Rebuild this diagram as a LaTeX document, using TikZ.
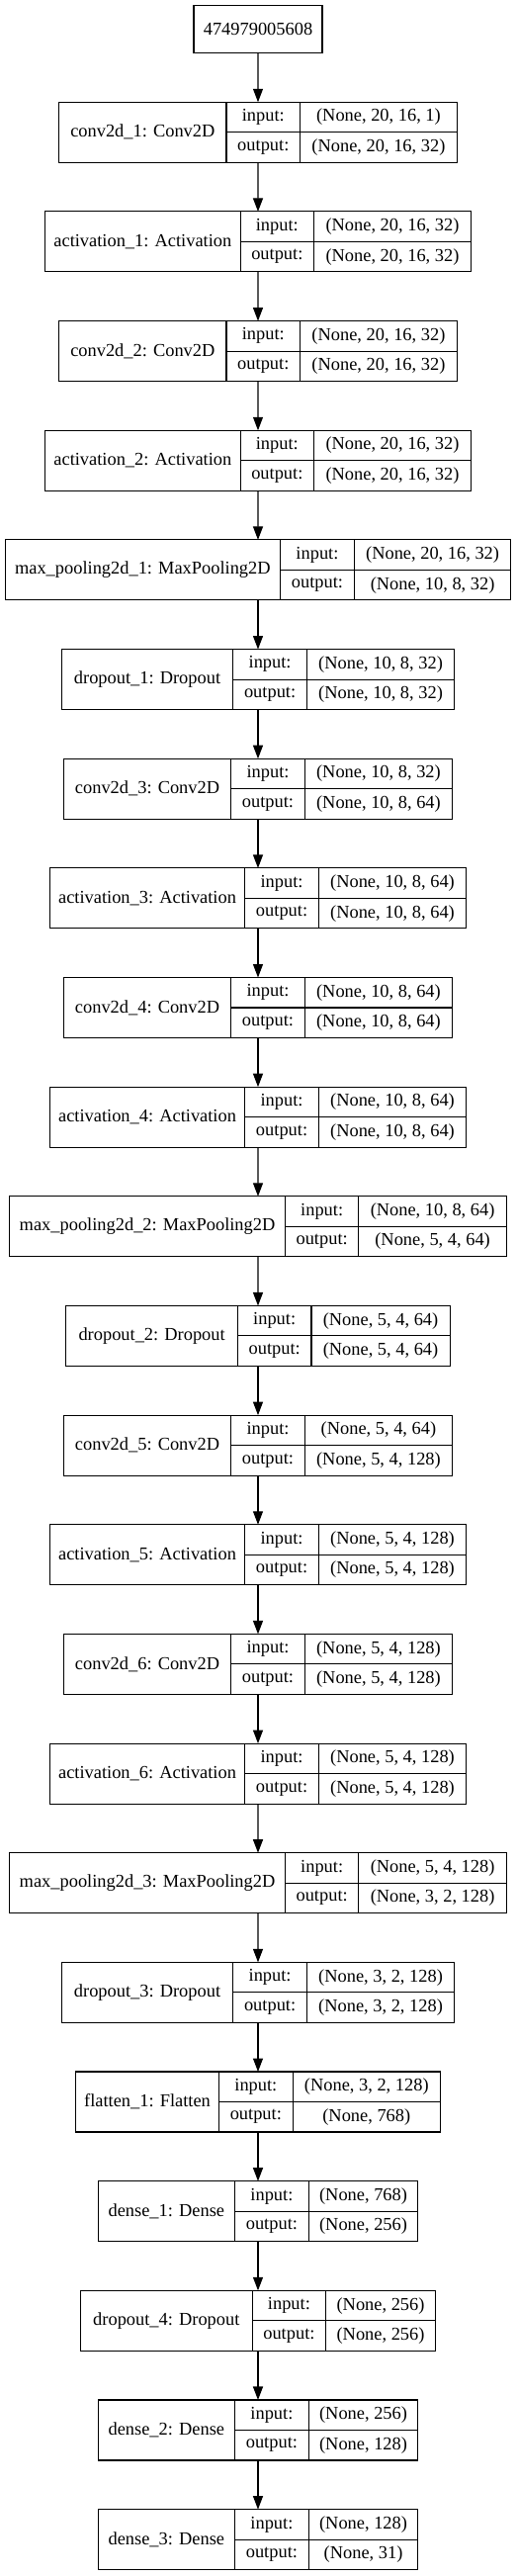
\documentclass[tikz,border=0pt]{standalone}
\usepackage{fontspec}
\setmainfont{Liberation Serif}
\usetikzlibrary{arrows.meta}
\def\u{0.75pt}
\tikzset{
  cell/.style={draw=black, line width=0.8pt, inner sep=0pt, outer sep=0pt, align=center,
    font=\fontsize{13.8pt}{16pt}\selectfont},
  blk/.style={inner sep=0pt, outer sep=0pt, minimum height=61*\u},
  arr/.style={line width=0.8pt, -{Triangle[length=13.5*\u, width=10*\u]}}
}
\newcommand\layer[6]{%
  \pgfmathsetmacro\lyW{#3+74.6+#4}%
  \pgfmathsetmacro\lyL{261-\lyW/2}%
  \pgfmathsetmacro\lyT{103.3+110.65*(#1-1)}%
  \pgfmathsetmacro\lyA{\lyL+#3}%
  \pgfmathsetmacro\lyB{\lyL+#3+74.6}%
  \pgfmathsetmacro\lyM{\lyT+30.5}%
  \node[blk, minimum width=\lyW*\u, anchor=north west] (b#1) at (\lyL,\lyT) {};
  \node[cell, minimum width=#3*\u, minimum height=61*\u, anchor=north west] (b#1l) at (\lyL,\lyT) {#2};
  \node[cell, minimum width=74.6*\u, minimum height=30.5*\u, anchor=north west] (b#1i) at (\lyA,\lyT) {input:};
  \node[cell, minimum width=74.6*\u, minimum height=30.5*\u, anchor=north west] (b#1o) at (\lyA,\lyM) {output:};
  \node[cell, minimum width=#4*\u, minimum height=30.5*\u, anchor=north west] (b#1iv) at (\lyB,\lyT) {#5};
  \node[cell, minimum width=#4*\u, minimum height=30.5*\u, anchor=north west] (b#1ov) at (\lyB,\lyM) {#6};
}
\begin{document}
\begin{tikzpicture}[x=\u, y=-\u]
\useasboundingbox (0,0) rectangle (523,2605);
\node[cell, minimum width=130*\u, minimum height=48*\u, anchor=north west] (top) at (196,5.7) {474979005608};
\layer{1}{conv2d\_1: Conv2D}{169.3}{158.7}{(None, 20, 16, 1)}{(None, 20, 16, 32)}
\layer{2}{activation\_1: Activation}{197.4}{158.7}{(None, 20, 16, 32)}{(None, 20, 16, 32)}
\layer{3}{conv2d\_2: Conv2D}{169.3}{158.7}{(None, 20, 16, 32)}{(None, 20, 16, 32)}
\layer{4}{activation\_2: Activation}{197.4}{158.7}{(None, 20, 16, 32)}{(None, 20, 16, 32)}
\layer{5}{max\_pooling2d\_1: MaxPooling2D}{278.6}{158.7}{(None, 20, 16, 32)}{(None, 10, 8, 32)}
\layer{6}{dropout\_1: Dropout}{173.5}{149.3}{(None, 10, 8, 32)}{(None, 10, 8, 32)}
\layer{7}{conv2d\_3: Conv2D}{169.3}{149.3}{(None, 10, 8, 32)}{(None, 10, 8, 64)}
\layer{8}{activation\_3: Activation}{197.4}{149.3}{(None, 10, 8, 64)}{(None, 10, 8, 64)}
\layer{9}{conv2d\_4: Conv2D}{169.3}{149.3}{(None, 10, 8, 64)}{(None, 10, 8, 64)}
\layer{10}{activation\_4: Activation}{197.4}{149.3}{(None, 10, 8, 64)}{(None, 10, 8, 64)}
\layer{11}{max\_pooling2d\_2: MaxPooling2D}{278.6}{149.3}{(None, 10, 8, 64)}{(None, 5, 4, 64)}
\layer{12}{dropout\_2: Dropout}{173.5}{140.1}{(None, 5, 4, 64)}{(None, 5, 4, 64)}
\layer{13}{conv2d\_5: Conv2D}{169.3}{149.3}{(None, 5, 4, 64)}{(None, 5, 4, 128)}
\layer{14}{activation\_5: Activation}{197.4}{149.3}{(None, 5, 4, 128)}{(None, 5, 4, 128)}
\layer{15}{conv2d\_6: Conv2D}{169.3}{149.3}{(None, 5, 4, 128)}{(None, 5, 4, 128)}
\layer{16}{activation\_6: Activation}{197.4}{149.3}{(None, 5, 4, 128)}{(None, 5, 4, 128)}
\layer{17}{max\_pooling2d\_3: MaxPooling2D}{278.6}{149.3}{(None, 5, 4, 128)}{(None, 3, 2, 128)}
\layer{18}{dropout\_3: Dropout}{173.5}{149.3}{(None, 3, 2, 128)}{(None, 3, 2, 128)}
\layer{19}{flatten\_1: Flatten}{145}{149.3}{(None, 3, 2, 128)}{(None, 768)}
\layer{20}{dense\_1: Dense}{138.5}{110.7}{(None, 768)}{(None, 256)}
\layer{21}{dropout\_4: Dropout}{173.5}{110.7}{(None, 256)}{(None, 256)}
\layer{22}{dense\_2: Dense}{138.5}{110.7}{(None, 256)}{(None, 128)}
\layer{23}{dense\_3: Dense}{138.5}{110.7}{(None, 128)}{(None, 31)}
\draw[arr] (top.south) -- (b1.north);
\foreach \i [evaluate=\i as \j using int(\i+1)] in {1,...,22} {
  \draw[arr] (b\i.south) -- (b\j.north);
}
\end{tikzpicture}
\end{document}
